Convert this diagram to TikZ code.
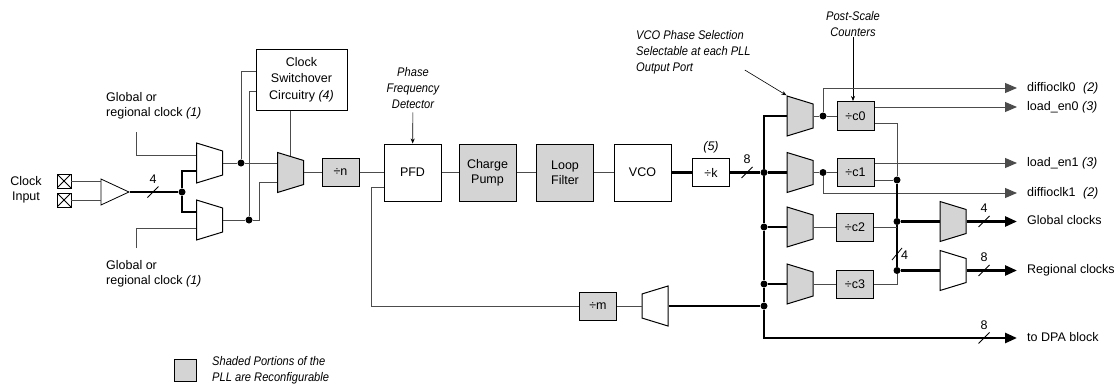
\documentclass[tikz,border=0pt]{standalone}
\usepackage{fontspec}
\setmainfont{Liberation Sans}
\newfontfamily\notefont[FakeStretch=0.89]{Liberation Sans}
\usetikzlibrary{shapes.geometric,arrows.meta}
\definecolor{shade}{gray}{0.83}
\definecolor{wiregray}{gray}{0.3}
\tikzset{
pics/buswd/.style={code={\draw[line width=0.8pt] (-5.5,5.5) -- (5.5,-5.5); \node at (0,-13) {#1};}},
pics/buswdr/.style={code={\draw[line width=0.8pt] (-5,6) -- (5,-6); \node[anchor=west,inner sep=0] at (4,1) {#1};}}
}

\begin{document}
\begin{tikzpicture}[x=1pt,y=-1pt,font=\fontsize{12.5}{15}\selectfont,
wire/.style={line width=0.9pt,draw=wiregray},
bus/.style={line width=2.6pt},
outarrow/.style={wire,-{Triangle[length=12pt,width=10pt]},shorten >=10pt},
busarrow/.style={bus,-{Triangle[length=12pt,width=10pt]},shorten >=10pt},
annot/.style={line width=0.6pt,-{Stealth[length=5pt,width=4pt]}},
blk/.style={draw,line width=1pt,minimum width=57pt,minimum height=57pt,inner sep=0,align=center},
cnt/.style={draw,line width=1pt,fill=shade,minimum width=37pt,minimum height=28pt,inner sep=0},
muxbase/.style={trapezium,draw,line width=1pt,trapezium left angle=73,trapezium right angle=73,minimum width=40pt,inner xsep=0pt,inner ysep=13pt,trapezium stretches body},
mux/.style={muxbase,rotate=-90},
muxl/.style={muxbase,rotate=90},
dot/.style={circle,fill,inner sep=0,minimum size=7pt},
pad/.style={draw,line width=0.8pt,minimum size=14pt,inner sep=0,path picture={\draw (path picture bounding box.north west) -- (path picture bounding box.south east) (path picture bounding box.south west) -- (path picture bounding box.north east);}},
note/.style={font=\notefont\itshape\fontsize{12.5}{16}\selectfont,align=center,inner sep=0},
outtxt/.style={anchor=west,inner sep=0,text height=9pt,text depth=2.5pt}]
\useasboundingbox (0,0) rectangle (1118,383);

\node[align=center] (clkin) at (26,190) {Clock\\Input};
\node[pad] (p0) at (64,181) {};
\node[pad] (p1) at (64,200) {};
\node[isosceles triangle,draw,line width=0.8pt,minimum width=26pt,minimum height=28pt,isosceles triangle stretches,inner sep=0,anchor=apex] (buf) at (130,192) {};
\draw[wire] (p0.east) -- (p0.east -| buf.west);
\draw[wire] (p1.east) -- (p1.east -| buf.west);
\node[dot] (ja) at (182,192) {};
\draw[bus] (buf.apex) -- (ja);
\pic at (153,192) {buswd=4};

\node[mux] (mx1) at (209.5,163) {};
\node[mux] (mx2) at (209.5,220) {};
\draw[bus] (ja) |- ([yshift=-8pt]mx1.bottom side);
\draw[bus] (ja) |- ([yshift=8pt]mx2.bottom side);
\node[align=left,anchor=west,inner sep=0] (gr1) at (106,105.5) {Global or\\regional clock \textit{(1)}};
\node[align=left,anchor=west,inner sep=0] (gr2) at (106,274) {Global or\\regional clock \textit{(1)}};
\coordinate (g1) at (136,132);
\coordinate (g2) at (136,248);
\draw[wire] (g1) |- ([yshift=8pt]mx1.bottom side);
\draw[wire] (g2) |- ([yshift=-8pt]mx2.bottom side);

\node[blk,minimum width=91pt,minimum height=61pt,font=\fontsize{12.5}{16.5}\selectfont] (sw) at (301.5,79.5) {Clock\\Switchover\\Circuitry \textit{(4)}};
\node[dot] (jb) at (241,163) {};
\node[dot] (jc) at (249,220) {};
\node[mux,fill=shade] (mx3) at (290.5,172.5) {};
\draw[wire] (mx1.top side) -- (jb) -- (jb -| mx3.bottom side);
\draw[wire] (jb) |- ([yshift=8.5pt]sw.west);
\draw[wire] (mx2.top side) -- (jc);
\draw[wire] (jc) |- ([yshift=-11.5pt]sw.west);
\draw[wire] (jc) -- ++(10,0) |- ([yshift=-9.5pt]mx3.bottom side);
\draw[wire] (sw.south -| mx3.left side) -- (mx3.left side);

\node[cnt] (dn) at (340.5,172.5) {÷n};
\node[blk] (pfd) at (412.5,172.5) {PFD};
\node[blk,fill=shade] (cp) at (487.5,172.5) {Charge\\Pump};
\node[blk,fill=shade] (lf) at (565,172.5) {Loop\\Filter};
\node[blk] (vco) at (642.5,172.5) {VCO};
\node[cnt,fill=white] (dk) at (711,172.5) {÷k};
\node[font=\fontsize{12.5}{15}\selectfont\itshape] (k5) at (711,147) {(5)};
\draw[wire] (mx3.top side) -- (dn);
\draw[wire] (dn) -- (pfd);
\draw[wire] (pfd) -- (cp);
\draw[wire] (cp) -- (lf);
\draw[wire] (lf) -- (vco);
\draw[bus] (vco) -- (dk);
\node[dot] (jd) at (764,172.5) {};
\draw[bus] (dk) -- (jd);
\pic at (747,172.5) {buswd=8};
\node[note] (pfdnote) at (413,88.5) {Phase\\Frequency\\Detector};
\draw[annot,shorten <=3pt] (pfdnote) -- (pfd);

\node[mux,fill=shade] (mc0) at (800,116) {};
\node[mux,fill=shade] (mc1) at (800,172.5) {};
\node[mux,fill=shade] (mc2) at (800,227) {};
\node[mux,fill=shade] (mc3) at (800,284) {};
\node[dot] (j2) at (764,227) {};
\node[dot] (j3) at (764,284) {};
\node[dot] (j4) at (764,306) {};
\node[outtxt] (dpa) at (1027,338) {to DPA block};
\draw[busarrow] (mc0.bottom side) -| (jd) -- (j2) -- (j3) -- (j4) |- (dpa.west);
\draw[bus] (jd) -- (mc1.bottom side);
\draw[bus] (j2) -- (mc2.bottom side);
\draw[bus] (j3) -- (mc3.bottom side);
\pic at (984,338) {buswd=8};

\node[muxl] (mm) at (655,306) {};
\node[cnt] (dm) at (598,306) {÷m};
\draw[bus] (mm.bottom side) -- (j4);
\draw[wire] (mm.top side) -- (dm);
\draw[wire] ([yshift=-14.5pt]pfd.west) -- ++(-12,0) |- (dm.west);

\node[note,align=left,anchor=west] (vsel) at (636,52) {VCO Phase Selection\\Selectable at each PLL\\Output Port};
\draw[annot] ([xshift=-6pt,yshift=4pt]vsel.south east) -- (mc0.bottom left corner);
\node[note] (psc) at (853,24.5) {Post-Scale\\Counters};
\node[dot] (d0) at (823,116) {};
\node[dot] (d1) at (823,172.5) {};
\node[cnt,minimum height=29pt] (c0) at (855.5,116) {÷c0};
\node[cnt] (c1) at (855.5,172.5) {÷c1};
\node[cnt] (c2) at (855,227) {÷c2};
\node[cnt] (c3) at (855,284) {÷c3};
\draw[annot] (psc) -- (psc |- c0.north);
\draw[wire] (mc0.top side) -- (d0) -- (c0);
\draw[wire] (mc1.top side) -- (d1) -- (c1);
\draw[wire] (mc2.top side) -- (c2);
\draw[wire] (mc3.top side) -- (c3);

\node[outtxt] (o0) at (1027,88) {diffioclk0\hspace{4pt} \textit{(2)}};
\node[outtxt] (o1) at (1027,107) {load\_en0 \textit{(3)}};
\node[outtxt] (o2) at (1027,163) {load\_en1 \textit{(3)}};
\node[outtxt] (o3) at (1027,193) {diffioclk1\hspace{4pt} \textit{(2)}};
\node[outtxt] (o4) at (1027,221.5) {Global clocks};
\node[outtxt] (o5) at (1027,270.5) {Regional clocks};
\draw[outarrow] (d0) |- (o0.west);
\draw[outarrow] ([yshift=9pt]c0.east) -- (o1.west);
\draw[outarrow] ([yshift=9.5pt]c1.east) -- (o2.west);
\draw[outarrow] (d1) |- (o3.west);

\node[dot] (jf) at (897,180) {};
\node[dot] (jg) at (897,221.5) {};
\node[dot] (jh) at (897,270.5) {};
\draw[wire] ([yshift=-7pt]c0.east) -| (jf);
\draw[wire] ([yshift=-7.5pt]c1.east) -- (jf);
\draw[bus] (jf) -- (jg) -- (jh);
\draw[wire] (c2.east) -- (c2.east -| jg);
\draw[wire] (c3.east) -| (jh);
\pic at (897,254) {buswdr=4};
\node[mux,fill=shade] (mg) at (953,221.5) {};
\node[mux,fill=white] (mr) at (953,270.5) {};
\draw[bus] (jg) -- (mg.bottom side);
\draw[bus] (jh) -- (mr.bottom side);
\draw[busarrow] (mg.top side) -- (o4.west);
\draw[busarrow] (mr.top side) -- (o5.west);
\pic at (984,221.5) {buswd=4};
\pic at (984,270.5) {buswd=8};

\node[cnt,minimum width=22pt,minimum height=22pt] (key) at (185,370) {};
\node[note,align=left,anchor=west] (keytxt) at (212,370.5) {Shaded Portions of the\\PLL are Reconfigurable};
\end{tikzpicture}
\end{document}
